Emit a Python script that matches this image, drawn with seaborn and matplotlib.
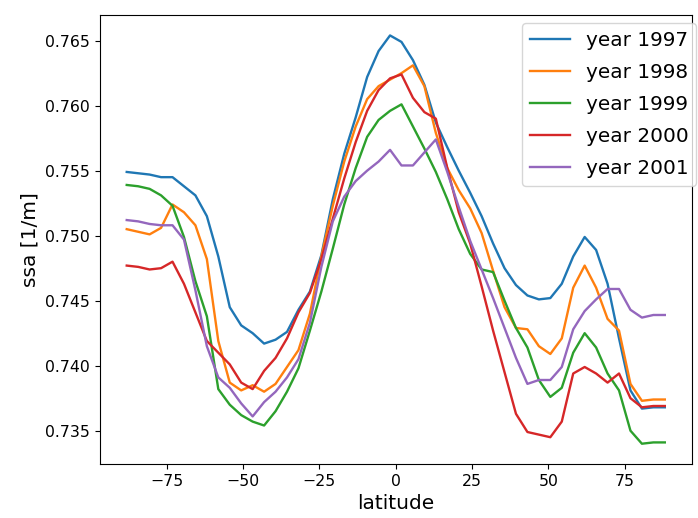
import matplotlib
matplotlib.use('Agg')
import matplotlib.pyplot as plt
import seaborn as sns
import pandas as pd

# latitude bin centres (3.75 deg grid)
latitude = [-88.125, -84.375, -80.625, -76.875, -73.125, -69.375, -65.625, -61.875,
            -58.125, -54.375, -50.625, -46.875, -43.125, -39.375, -35.625, -31.875,
            -28.125, -24.375, -20.625, -16.875, -13.125, -9.375, -5.625, -1.875,
            1.875, 5.625, 9.375, 13.125, 16.875, 20.625, 24.375, 28.125,
            31.875, 35.625, 39.375, 43.125, 46.875, 50.625, 54.375, 58.125,
            61.875, 65.625, 69.375, 73.125, 76.875, 80.625, 84.375, 88.125]

ssa_1997 = [0.7549, 0.7548, 0.7547, 0.7545, 0.7545, 0.7538, 0.7531, 0.7515,
            0.7484, 0.7445, 0.7431, 0.7425, 0.7417, 0.7420, 0.7426, 0.7443,
            0.7457, 0.7485, 0.7528, 0.7563, 0.7591, 0.7622, 0.7642, 0.7654,
            0.7649, 0.7635, 0.7616, 0.7587, 0.7568, 0.7550, 0.7533, 0.7515,
            0.7494, 0.7475, 0.7462, 0.7454, 0.7451, 0.7452, 0.7463, 0.7484,
            0.7499, 0.7489, 0.7463, 0.7421, 0.7381, 0.7367, 0.7368, 0.7368]

ssa_1998 = [0.7505, 0.7503, 0.7501, 0.7506, 0.7524, 0.7518, 0.7508, 0.7482,
            0.7419, 0.7387, 0.7381, 0.7385, 0.7380, 0.7386, 0.7399, 0.7412,
            0.7440, 0.7484, 0.7523, 0.7557, 0.7584, 0.7605, 0.7615, 0.7620,
            0.7625, 0.7631, 0.7615, 0.7579, 0.7552, 0.7535, 0.7521, 0.7502,
            0.7473, 0.7445, 0.7429, 0.7428, 0.7415, 0.7409, 0.7421, 0.7460,
            0.7477, 0.7460, 0.7436, 0.7427, 0.7386, 0.7373, 0.7374, 0.7374]

ssa_1999 = [0.7539, 0.7538, 0.7536, 0.7531, 0.7523, 0.7499, 0.7465, 0.7438,
            0.7382, 0.7370, 0.7362, 0.7357, 0.7354, 0.7365, 0.7380, 0.7398,
            0.7427, 0.7457, 0.7490, 0.7524, 0.7552, 0.7576, 0.7589, 0.7596,
            0.7601, 0.7584, 0.7567, 0.7549, 0.7528, 0.7505, 0.7486, 0.7474,
            0.7472, 0.7450, 0.7429, 0.7414, 0.7389, 0.7376, 0.7383, 0.7410,
            0.7425, 0.7414, 0.7394, 0.7381, 0.7350, 0.7340, 0.7341, 0.7341]

ssa_2000 = [0.7477, 0.7476, 0.7474, 0.7475, 0.7480, 0.7463, 0.7441, 0.7419,
            0.7410, 0.7401, 0.7387, 0.7382, 0.7396, 0.7406, 0.7421, 0.7441,
            0.7456, 0.7482, 0.7513, 0.7544, 0.7572, 0.7596, 0.7612, 0.7621,
            0.7624, 0.7606, 0.7595, 0.7590, 0.7552, 0.7518, 0.7494, 0.7461,
            0.7427, 0.7395, 0.7363, 0.7349, 0.7347, 0.7345, 0.7357, 0.7394,
            0.7399, 0.7394, 0.7387, 0.7394, 0.7375, 0.7368, 0.7369, 0.7369]

ssa_2001 = [0.7512, 0.7511, 0.7509, 0.7508, 0.7508, 0.7497, 0.7458, 0.7415,
            0.7391, 0.7383, 0.7371, 0.7361, 0.7372, 0.7380, 0.7391, 0.7405,
            0.7433, 0.7476, 0.7511, 0.7530, 0.7542, 0.7550, 0.7557, 0.7566,
            0.7554, 0.7554, 0.7564, 0.7574, 0.7549, 0.7522, 0.7496, 0.7474,
            0.7452, 0.7429, 0.7406, 0.7386, 0.7389, 0.7389, 0.7399, 0.7428,
            0.7442, 0.7451, 0.7459, 0.7459, 0.7443, 0.7437, 0.7439, 0.7439]

years = [1997, 1998, 1999, 2000, 2001]
series = [ssa_1997, ssa_1998, ssa_1999, ssa_2000, ssa_2001]
colors = sns.color_palette('tab10', 5)

fig, ax = plt.subplots(figsize=(6.98, 5.18), dpi=100)
fig.subplots_adjust(left=0.143, right=0.991, bottom=0.104, top=0.971)

for yr, vals, col in zip(years, series, colors):
    df = pd.DataFrame({'latitude': latitude, 'ssa': vals})
    sns.lineplot(data=df, x='latitude', y='ssa', color=col, linewidth=1.7,
                 label='year ' + str(yr), ax=ax)

ax.set_xlabel('latitude', fontsize=14.5)
ax.set_ylabel('ssa [1/m]', fontsize=14.5)
ax.tick_params(labelsize=11.3)
# legend sits a little past the right spine in the original
ax.legend(loc='upper right', bbox_to_anchor=(1.008, 0.982), borderaxespad=0,
          fontsize=14.4, labelspacing=0.65)

plt.savefig('out.png', dpi=100)
